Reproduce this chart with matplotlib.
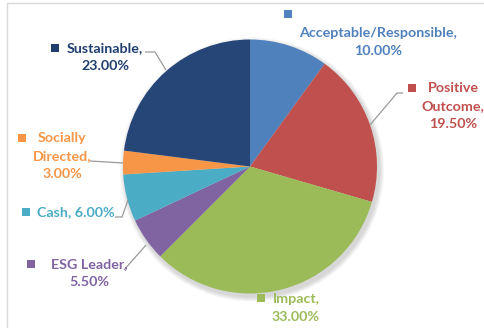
import matplotlib
matplotlib.use("Agg")
import matplotlib.pyplot as plt
from matplotlib.patches import Rectangle, Circle

categories = ["Acceptable/Responsible", "Positive Outcome", "Impact", "ESG Leader",
              "Cash", "Socially Directed", "Sustainable"]
shares = [10.00, 19.50, 33.00, 5.50, 6.00, 3.00, 23.00]
colors = ["#4F81BD", "#C0504D", "#9BBB59", "#8064A2", "#4BACC6", "#F79646", "#254676"]
text_colors = ["#4F81BD", "#C0504D", "#9BBB59", "#8064A2", "#4BACC6", "#F79646", "#1F3F6E"]

W, H = 485, 328
fig = plt.figure(figsize=(W / 100, H / 100), dpi=100)
ax = fig.add_axes([0, 0, 1, 1])
ax.set_xlim(0, W)
ax.set_ylim(0, H)
ax.set_aspect("equal")
ax.axis("off")

def Y(y):
    return H - y

# chart-area frame
ax.add_patch(Rectangle((7, Y(330)), 500, 327, fill=False, ec="#D9D9D9", lw=1.0))

cx, cy, r = 250, Y(166.5), 127

# soft drop shadow below the pie
for k in range(8):
    ax.add_patch(Circle((cx + 2, cy - 3), r + 1 + k * 0.6, color="#000000",
                        alpha=0.018, lw=0, zorder=1))

ax.pie(shares, colors=colors, startangle=90, counterclock=False,
       center=(cx, cy), radius=r, wedgeprops=dict(lw=0, zorder=2))
ax.set_xlim(0, W)
ax.set_ylim(0, H)

font = dict(family="Lato", fontweight="bold", fontsize=10.3)

# label layout: (marker x, marker y, text x, first-line y, lines)
labels = [
    (288, 14, 378, 33, ["Acceptable/Responsible,", f"{shares[0]:.2f}%"]),
    (412, 88, 453, 88, ["Positive", "Outcome,", f"{shares[1]:.2f}%"]),
    (261, 298, 296, 299, ["Impact,", f"{shares[2]:.2f}%"]),
    (31, 264, 89, 264, ["ESG Leader,", f"{shares[3]:.2f}%"]),
    (26, 212, 76, 212, [f"Cash, {shares[4]:.2f}%"]),
    (22, 138, 62, 138, ["Socially", "Directed,", f"{shares[5]:.2f}%"]),
    (55, 48, 105, 48, ["Sustainable,", f"{shares[6]:.2f}%"]),
]
line_h = 18
for (mx, my, tx, ty, lines), tc in zip(labels, text_colors):
    ax.add_patch(Rectangle((mx - 4, Y(my) - 4), 8, 8, color=tc, lw=0, zorder=3))
    for i, s in enumerate(lines):
        ax.text(tx, Y(ty + i * line_h), s, color=tc, ha="center", va="center",
                zorder=4, **font)

# leader lines
leaders = [
    [(403, 93), (397, 93), (370, 125)],
    [(145, 52), (155, 52), (166, 70)],
    [(90, 161), (123, 163)],
    [(115, 217), (122, 217), (128, 200)],
    [(124, 270), (146, 245)],
]
for pts in leaders:
    ax.plot([p[0] for p in pts], [Y(p[1]) for p in pts], color="#9A9A9A",
            lw=0.9, zorder=3, solid_capstyle="butt")

fig.savefig("out.png", dpi=100)
